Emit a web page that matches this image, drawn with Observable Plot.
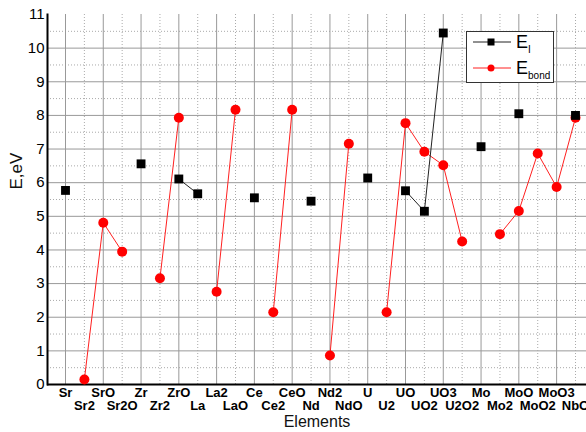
<!DOCTYPE html>
<html><head><meta charset="utf-8">
<script src="https://cdn.jsdelivr.net/npm/d3@7"></script>
<script src="https://cdn.jsdelivr.net/npm/@observablehq/plot@0.6"></script>
<style>
body{margin:0;background:#fff;font-family:Arial,"Liberation Sans",sans-serif;}
#wrap{position:relative;width:586px;height:432px;overflow:hidden;}
#legend{position:absolute;left:466px;top:31px;}
</style></head><body><div id="wrap"></div>
<script>
const categories = ["Sr","Sr2","SrO","Sr2O","Zr","Zr2","ZrO","La","La2","LaO","Ce","Ce2","CeO","Nd","Nd2","NdO","U","U2","UO","UO2","UO3","U2O2","Mo","Mo2","MoO","MoO2","MoO3","NbO"];
const eI    = [5.77,null,null,null,6.56,null,6.11,5.67,null,null,5.55,null,null,5.45,null,null,6.14,null,5.76,5.15,10.45,null,7.07,null,8.05,null,null,8.0];
const eBond = [null,0.15,4.81,3.95,null,3.16,7.93,null,2.76,8.17,null,2.15,8.17,null,0.86,7.16,null,2.15,7.77,6.92,6.52,4.25,null,4.47,5.16,6.87,5.87,7.93];
const yTicks = [0,1,2,3,4,5,6,7,8,9,10,11];
const seriesNames = ["E", "E"];
const seriesSubs = ["I", "bond"];
const xTitle = "Elements";
const yTitle = "E,eV";

const data = categories.map((c, i) => ({cat: c, ei: eI[i], eb: eBond[i]}));
const evenCats = categories.filter((d, i) => i % 2 === 0);
const oddCats = categories.filter((d, i) => i % 2 === 1);
const font = "Arial, 'Liberation Sans', sans-serif";

const chart = Plot.plot({
  width: 586, height: 432,
  marginLeft: 47, marginRight: 0, marginTop: 14, marginBottom: 48,
  style: {fontFamily: font, background: "#fff"},
  x: {type: "point", domain: categories, range: [65, 575], padding: 0, round: false},
  y: {domain: [0, 11]},
  marks: [
    Plot.ruleY(d3.range(0.5, 11, 1), {stroke: "#aaa", strokeDasharray: "1,2"}),
    Plot.ruleY(d3.range(1, 11), {stroke: "#999"}),
    Plot.ruleX(oddCats, {stroke: "#aaa", strokeDasharray: "1,2", y1: 0, y2: 11}),
    Plot.ruleX(evenCats, {stroke: "#999", y1: 0, y2: 11}),
    Plot.axisY({ticks: yTicks, tickSize: 0, tickPadding: 3, fontSize: 15, label: null}),
    Plot.axisX({ticks: evenCats, tickSize: 0, tickPadding: 3, fontSize: 13, fontWeight: "bold", label: null}),
    Plot.axisX({ticks: oddCats, tickSize: 0, tickPadding: 16, fontSize: 13, fontWeight: "bold", label: null}),
    Plot.text([xTitle], {text: d => d, frameAnchor: "bottom", dy: 42, fontSize: 16, fill: "#111"}),
    Plot.text([yTitle], {text: d => d, frameAnchor: "left", rotate: -90, dx: -31, dy: -10, fontSize: 17, fill: "#111"}),
    Plot.frame({anchor: "left", stroke: "black", strokeWidth: 2}),
    Plot.ruleY([0], {stroke: "black", strokeWidth: 2}),
    Plot.line(data, {x: "cat", y: "eb", stroke: "#ff2020", strokeWidth: 1}),
    Plot.line(data, {x: "cat", y: "ei", stroke: "#222", strokeWidth: 1}),
    Plot.dot(data, {x: "cat", y: "eb", r: 5, fill: "#ff0000", stroke: "none"}),
    Plot.dot(data, {x: "cat", y: "ei", r: 5, symbol: "square", fill: "#000", stroke: "none"})
  ]
});
document.getElementById("wrap").appendChild(chart);

// legend
const leg = d3.select("#wrap").append("svg").attr("id", "legend").attr("width", 89).attr("height", 53);
leg.append("rect").attr("x", 0.5).attr("y", 0.5).attr("width", 87).attr("height", 51).attr("fill", "#fff").attr("stroke", "#333");
const rows = [{y: 11, color: "#222", sym: "square"}, {y: 37, color: "#ff2020", sym: "circle"}];
rows.forEach((r, i) => {
  const g = leg.append("g");
  g.append("line").attr("x1", 7).attr("x2", 45).attr("y1", r.y).attr("y2", r.y).attr("stroke", r.color);
  if (r.sym === "square") g.append("rect").attr("x", 21.5).attr("y", r.y - 3.5).attr("width", 7).attr("height", 7).attr("fill", "#000");
  else g.append("circle").attr("cx", 25).attr("cy", r.y).attr("r", 3.5).attr("fill", "#ff0000");
  const t = g.append("text").attr("x", 50).attr("y", r.y + 6).attr("font-size", 18).attr("font-family", font).text(seriesNames[i]);
  t.append("tspan").attr("dy", 5).attr("font-size", 10).text(seriesSubs[i]);
});
</script>
</body></html>
